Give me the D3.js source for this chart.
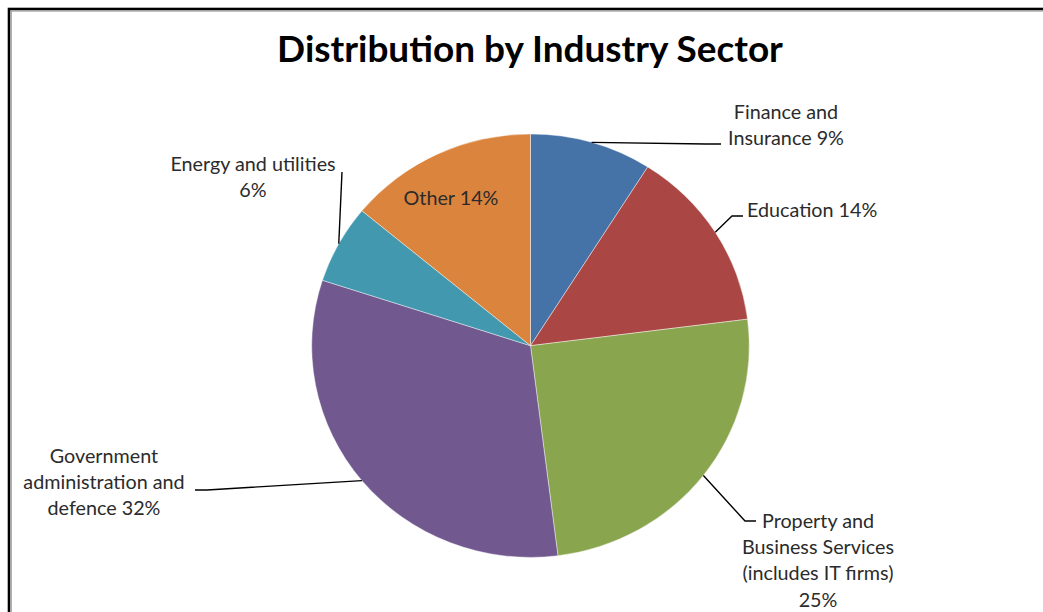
<!DOCTYPE html>
<html>
<head>
<meta charset="utf-8">
<script src="https://cdn.jsdelivr.net/npm/d3@7"></script>
<style>
  html, body { margin: 0; padding: 0; background: #fff; }
  svg { display: block; }
</style>
</head>
<body>
<svg id="chart" width="1043" height="612"></svg>
<script>
// Sector shares, clockwise from 12 o'clock
const sectors = [
  "Finance and Insurance",
  "Education",
  "Property and Business Services (includes IT firms)",
  "Government administration and defence",
  "Energy and utilities",
  "Other"
];
const shares = [9, 14, 25, 32, 6, 14];
const colors = ["#4572A7", "#AA4643", "#89A54E", "#71588F", "#4198AF", "#DB843D"];

// Label text, one entry per line
const labelLines = [
  ["Finance and", "Insurance 9%"],
  ["Education 14%"],
  ["Property and", "Business Services", "(includes IT firms)", "25%"],
  ["Government", "administration and", "defence 32%"],
  ["Energy and utilities", "6%"],
  ["Other 14%"]
];

const titleText = "Distribution by Industry Sector";

// Label placement: anchor point, text anchor, and leader elbow points
const labelLayout = [
  { x: 786, y: 119, anchor: "middle", leader: [[706, 144], [721, 144]] },
  { x: 747, y: 217, anchor: "start",  leader: [[732, 216], [743, 216]] },
  { x: 818, y: 528, anchor: "middle", leader: [[745, 521], [756, 521]] },
  { x: 104, y: 463, anchor: "middle", leader: [[207, 490], [195, 490]] },
  { x: 253, y: 171, anchor: "middle", leader: [[342, 172]] },
  { x: 451, y: 205, anchor: "middle", leader: null }
];

const svg = d3.select("#chart");
const W = 1043, H = 612;

// Outer frame
svg.append("rect")
  .attr("x", 9).attr("y", 9).attr("width", W + 20).attr("height", H + 20)
  .attr("fill", "none").attr("stroke", "#000").attr("stroke-width", 2.6);
svg.append("rect")
  .attr("x", 11.2).attr("y", 11).attr("width", W + 20).attr("height", H + 20)
  .attr("fill", "none").attr("stroke", "#9a9a9a").attr("stroke-width", 1.2);

const labelFont = "Lato, 'Open Sans', sans-serif";

// Title, sized to span its box
const title = svg.append("text")
  .attr("x", 530).attr("y", 62)
  .attr("text-anchor", "middle")
  .style("font-family", labelFont)
  .style("font-weight", "700")
  .style("font-size", "30px")
  .attr("fill", "#000")
  .text(titleText);
{
  const w = title.node().getComputedTextLength();
  title.style("font-size", (30 * 506 / w).toFixed(2) + "px");
}

// Pie geometry (drawn slightly flattened vertically)
const cx = 530.5, cy = 345.7, rx = 218.8, ry = 211.7;

const pie = d3.pie().sort(null).value(d => d.value).startAngle(0).endAngle(2 * Math.PI);
const data = sectors.map((s, i) => ({ name: s, value: shares[i], color: colors[i], lines: labelLines[i], layout: labelLayout[i] }));
const arcs = pie(data);

const arc = d3.arc().innerRadius(0).outerRadius(rx);

const pieG = svg.append("g")
  .attr("transform", `translate(${cx},${cy}) scale(1,${ry / rx})`);

pieG.selectAll("path.slice")
  .data(arcs)
  .join("path")
  .attr("class", "slice")
  .attr("d", arc)
  .attr("fill", d => d.data.color)
  .attr("stroke", "rgba(255,255,255,0.55)")
  .attr("stroke-width", 0.8);

// Label font size matched to the widest label line
const probe = svg.append("text").style("font-family", labelFont).style("font-size", "20px").text("Business Services");
const labelSize = 20 * 152 / probe.node().getComputedTextLength();
probe.remove();

// Leader lines from the slice edge at its mid-angle
const line = d3.line();
arcs.forEach(a => {
  const L = a.data.layout;
  if (!L.leader) return;
  const mid = (a.startAngle + a.endAngle) / 2;
  const start = [cx + rx * Math.sin(mid), cy - ry * Math.cos(mid)];
  svg.append("path")
    .attr("d", line([start, ...L.leader]))
    .attr("fill", "none")
    .attr("stroke", "#000")
    .attr("stroke-width", 1.4);
});

// Labels
arcs.forEach(a => {
  const L = a.data.layout;
  const t = svg.append("text")
    .attr("x", L.x).attr("y", L.y)
    .attr("text-anchor", L.anchor)
    .style("font-family", labelFont)
    .style("font-size", labelSize.toFixed(2) + "px")
    .attr("fill", "#2b2b2b");
  a.data.lines.forEach((ln, i) => {
    t.append("tspan")
      .attr("x", L.x)
      .attr("dy", i === 0 ? 0 : 26.2)
      .text(ln);
  });
});
</script>
</body>
</html>
